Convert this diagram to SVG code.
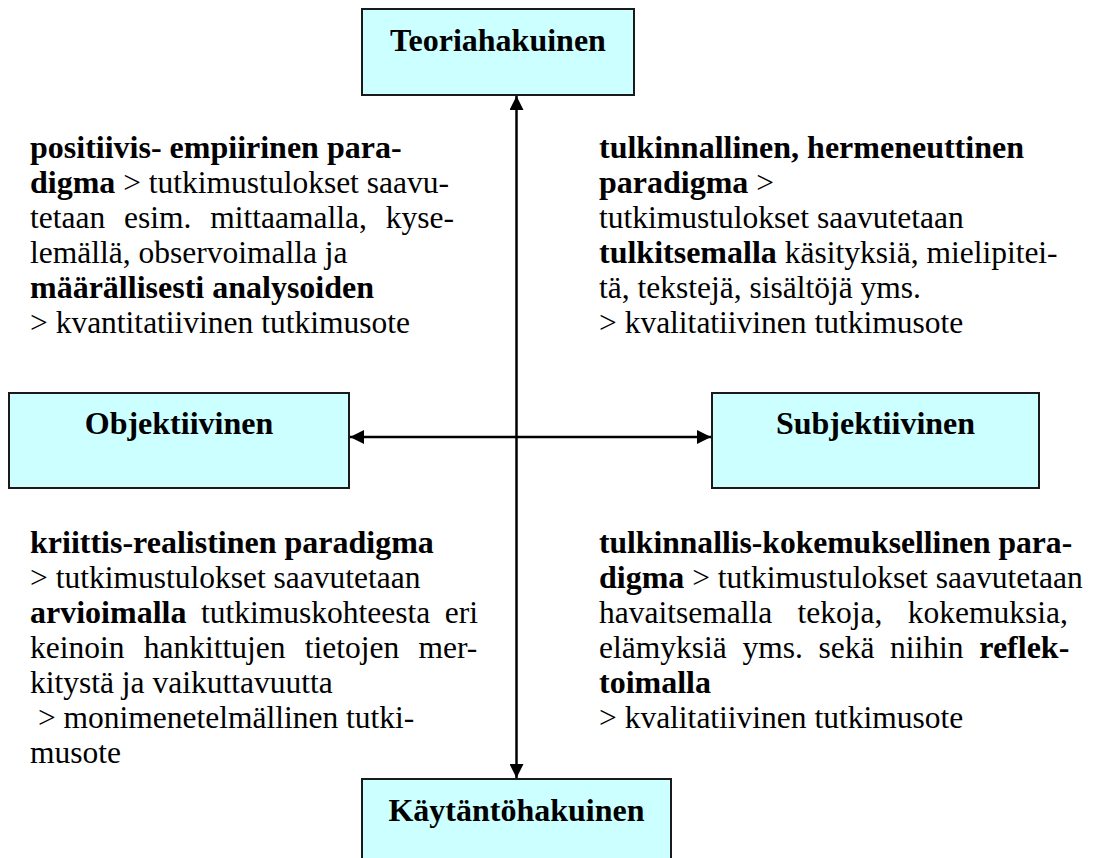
<svg xmlns="http://www.w3.org/2000/svg" width="1095" height="858" viewBox="0 0 1095 858">
<style>
.box{fill:#CCFFFF;stroke:#1a1a1a;stroke-width:2}
.h{font-size:32px;font-weight:bold;fill:#000;text-anchor:middle}
.t{font-size:31.5px;fill:#000}
.b{font-weight:bold;font-size:32px}
.ln{stroke:#000;stroke-width:2.5;fill:none}
</style>
<defs>
<marker id="ah" viewBox="0 0 14 14" refX="14" refY="7" markerWidth="14" markerHeight="14" markerUnits="userSpaceOnUse" orient="auto-start-reverse">
<path d="M0,0 L14,7 L0,14 z" fill="#000"/>
</marker>
</defs>
<g font-family="'Liberation Serif', Tinos, 'Times New Roman', Times, serif">
<g id="connectors">
<line class="ln" x1="516.5" y1="96" x2="516.5" y2="778" marker-start="url(#ah)" marker-end="url(#ah)"/>
<line class="ln" x1="350" y1="437" x2="711" y2="437" marker-start="url(#ah)" marker-end="url(#ah)"/>
</g>
<g id="teoriahakuinen">
<rect class="box" x="362" y="9" width="272" height="86"/>
<text class="h" x="498" y="51">Teoriahakuinen</text>
</g>
<g id="objektiivinen">
<rect class="box" x="9" y="393" width="340" height="95"/>
<text class="h" x="179" y="434">Objektiivinen</text>
</g>
<g id="subjektiivinen">
<rect class="box" x="712" y="393" width="327" height="95"/>
<text class="h" x="875.5" y="434">Subjektiivinen</text>
</g>
<g id="kaytantohakuinen">
<rect class="box" x="362" y="779" width="309" height="100"/>
<text class="h" x="516.5" y="821">Käytäntöhakuinen</text>
</g>
<g id="text-top-left">
<text class="t" x="30" y="158"><tspan class="b">positiivis- empiirinen para-</tspan></text>
<text class="t" x="30" y="193"><tspan class="b">digma</tspan> &gt; tutkimustulokset saavu-</text>
<text class="t" x="30" y="228" word-spacing="11">tetaan esim. mittaamalla, kyse-</text>
<text class="t" x="30" y="263">lemällä, observoimalla ja</text>
<text class="t" x="30" y="298"><tspan class="b">määrällisesti analysoiden</tspan></text>
<text class="t" x="30" y="333">&gt; kvantitatiivinen tutkimusote</text>
</g>
<g id="text-top-right">
<text class="t" x="599" y="158"><tspan class="b">tulkinnallinen, hermeneuttinen</tspan></text>
<text class="t" x="599" y="193"><tspan class="b">paradigma</tspan> &gt;</text>
<text class="t" x="599" y="228" font-size="30.5">tutkimustulokset saavutetaan</text>
<text class="t" x="599" y="263"><tspan class="b">tulkitsemalla</tspan> käsityksiä, mielipitei-</text>
<text class="t" x="599" y="298" font-size="30.5">tä, tekstejä, sisältöjä yms.</text>
<text class="t" x="599" y="333">&gt; kvalitatiivinen tutkimusote</text>
</g>
<g id="text-bottom-left">
<text class="t" x="30" y="553"><tspan class="b">kriittis-realistinen paradigma</tspan></text>
<text class="t" x="30" y="588">&gt; tutkimustulokset saavutetaan</text>
<text class="t" x="30" y="623" word-spacing="6.7"><tspan class="b">arvioimalla</tspan> tutkimuskohteesta eri</text>
<text class="t" x="30" y="658" word-spacing="11.4">keinoin hankittujen tietojen mer-</text>
<text class="t" x="30" y="693">kitystä ja vaikuttavuutta</text>
<text class="t" x="30" y="728" xml:space="preserve"> &gt; monimenetelmällinen tutki-</text>
<text class="t" x="30" y="763">musote</text>
</g>
<g id="text-bottom-right">
<text class="t" x="599" y="553"><tspan class="b" font-size="31.6px" style="font-size:31.6px">tulkinnallis-kokemuksellinen para-</tspan></text>
<text class="t" x="599" y="588"><tspan class="b">digma</tspan> &gt; tutkimustulokset saavutetaan</text>
<text class="t" x="599" y="623" word-spacing="17.5">havaitsemalla tekoja, kokemuksia,</text>
<text class="t" x="599" y="658" word-spacing="7.8">elämyksiä yms. sekä niihin <tspan class="b">reflek-</tspan></text>
<text class="t" x="599" y="693"><tspan class="b">toimalla</tspan></text>
<text class="t" x="599" y="728">&gt; kvalitatiivinen tutkimusote</text>
</g>
</g>
</svg>
